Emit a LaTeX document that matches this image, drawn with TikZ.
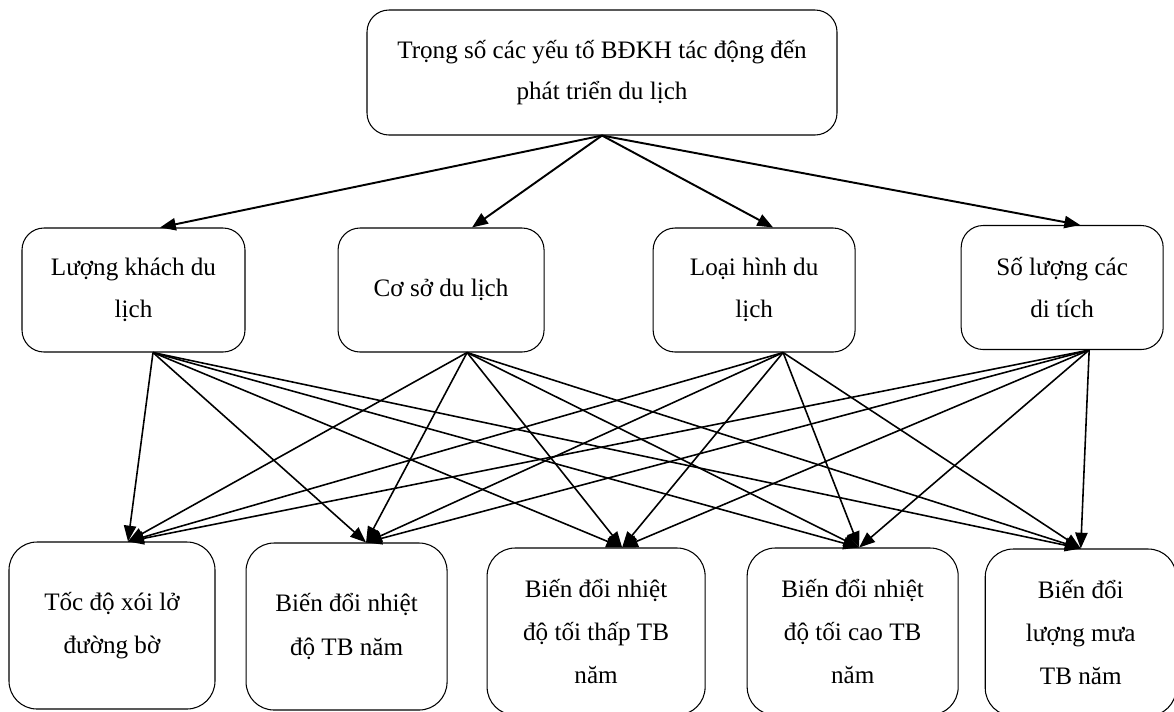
\documentclass[tikz,border=0pt]{standalone}
\usepackage{fontspec}
\setmainfont{Liberation Serif}
\usetikzlibrary{positioning}
\usetikzlibrary{arrows.meta}

\begin{document}
\begin{tikzpicture}[
    box/.style={draw, line width=0.6pt, rounded corners=0.44cm, align=center,
                font=\fontsize{14.3}{23.6}\selectfont, inner sep=0pt},
    lowbox/.style={box, rounded corners=0.56cm, minimum height=3.34cm,
                font=\fontsize{14.3}{24.7}\selectfont},
    arr/.style={-{Triangle[length=9pt,width=7pt]}, line width=0.9pt}]
    \useasboundingbox (0,0) rectangle (23.48,-14.22);

    % goal
    \node[box, minimum width=9.4cm, minimum height=2.5cm] (goal) at (12.04,-1.45)
        {Trọng số các yếu tố BĐKH tác động đến\\phát triển du lịch};

    % criteria
    \node[box, minimum width=4.46cm, minimum height=2.48cm] (m1) at (2.67,-5.8)
        {Lượng khách du\\lịch};
    \node[box, minimum width=4.12cm, minimum height=2.48cm, right = 1.84cm of m1] (m2)
        {Cơ sở du lịch};
    \node[box, minimum width=4.04cm, minimum height=2.48cm, right = 2.16cm of m2] (m3)
        {Loại hình du\\lịch};
    \node[box, minimum width=4.04cm, minimum height=2.48cm, right = 2.1cm of m3, yshift=0.05cm] (m4)
        {Số lượng các\\di tích};

    % factors
    \node[lowbox, minimum width=4.12cm] (b1) at (2.24,-12.51)
        {Tốc độ xói lở\\đường bờ};
    \node[lowbox, minimum width=4.02cm, right = 0.6cm of b1, yshift=-0.02cm] (b2)
        {Biến đổi nhiệt\\độ TB năm};
    \node[lowbox, minimum width=4.36cm, right = 0.78cm of b2, yshift=-0.1cm] (b3)
        {Biến đổi nhiệt\\độ tối thấp TB\\năm};
    \node[lowbox, minimum width=4.22cm, right = 0.82cm of b3] (b4)
        {Biến đổi nhiệt\\độ tối cao TB\\năm};
    \node[lowbox, minimum width=3.82cm, right = 0.52cm of b4, yshift=-0.02cm] (b5)
        {Biến đổi\\lượng mưa\\TB năm};

    \draw[arr, line width=1.1pt] (goal.south) -- ([xshift=0.53cm]m1.north);
    \draw[arr, line width=1.1pt] (goal.south) -- ([xshift=0.62cm]m2.north);
    \draw[arr, line width=1.1pt] (goal.south) -- ([xshift=0.38cm]m3.north);
    \draw[arr, line width=1.1pt] (goal.south) -- ([xshift=0.36cm]m4.north);

    \foreach \m/\ms in {m1/0.39, m2/0.52, m3/0.58, m4/0.54}
        \foreach \b/\bs in {b1/0.32, b2/0.39, b3/0.52, b4/0.13, b5/0}
            \draw[arr] ([xshift=\ms cm]\m.south) -- ([xshift=\bs cm]\b.north);
\end{tikzpicture}
\end{document}
